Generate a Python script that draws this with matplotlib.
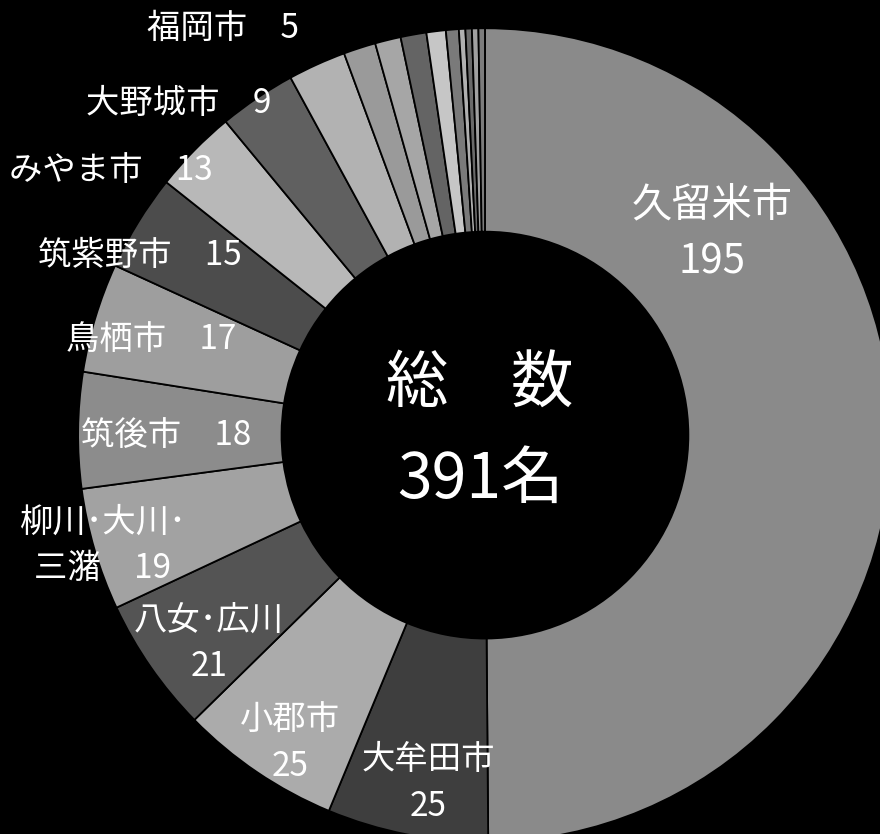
import matplotlib.pyplot as plt

plt.rcParams['font.family'] = ['Noto Sans CJK JP', 'DejaVu Sans']

# 市町村別の人数 (ラベルなしは小さな区分)
areas = ["久留米市", "大牟田市", "小郡市", "八女･広川", "柳川･大川･\n三潴", "筑後市",
         "鳥栖市", "筑紫野市", "みやま市", "", "大野城市", "福岡市",
         "", "", "", "", "", "", "", ""]
counts = [195, 25, 25, 21, 19, 18, 17, 15, 13, 12, 9, 5, 4, 4, 3, 2, 1, 1, 1, 1]
shades = ["#8a8a8a", "#3e3e3e", "#ababab", "#545454", "#a2a2a2", "#8c8c8c",
          "#9e9e9e", "#4c4c4c", "#b8b8b8", "#606060", "#b2b2b2", "#9a9a9a",
          "#a6a6a6", "#646464", "#c6c6c6", "#7a7a7a", "#b0b0b0", "#6a6a6a",
          "#a0a0a0", "#7c7c7c"]
total = sum(counts)

# ラベルの配置 (中心座標, 外径=1)
label_pos = {
    "久留米市": (0.558, 0.496),
    "大牟田市": (-0.140, -0.855),
    "小郡市": (-0.479, -0.757),
    "八女･広川": (-0.678, -0.511),
    "柳川･大川･\n三潴": (-0.939, -0.270),
    "筑後市": (-0.784, 0.0),
    "鳥栖市": (-0.821, 0.233),
    "筑紫野市": (-0.848, 0.442),
    "みやま市": (-0.919, 0.651),
    "大野城市": (-0.754, 0.816),
    "福岡市": (-0.644, 1.0),
}
two_line = ["久留米市", "大牟田市", "小郡市", "八女･広川"]

fig = plt.figure(figsize=(8.8, 8.34), dpi=100, facecolor="black")
ax = fig.add_axes([0, 0, 1, 1])
ax.set_facecolor("black")

ax.pie(counts, colors=shades, startangle=90, counterclock=False, radius=1.0,
       wedgeprops=dict(width=0.5, edgecolor="black", linewidth=1.3))

for name, n in zip(areas, counts):
    if name not in label_pos:
        continue
    if name in two_line:
        txt = f"{name}\n{n}"
    else:
        txt = f"{name}　{n}"
    big = name == "久留米市"
    x, y = label_pos[name]
    ax.text(x, y, txt, color="white", fontsize=29 if big else 24,
            ha="center", va="center", linespacing=1.5 if big else 1.42)

ax.text(-0.012, 0.007, f"総　数\n{total}名", color="white", fontsize=45,
        ha="center", va="center", linespacing=1.62)

ax.set_xlim(-1.192, 0.971)
ax.set_ylim(-0.980, 1.069)
ax.set_aspect("equal")
ax.axis("off")

fig.savefig("out.png", dpi=100, facecolor="black")
